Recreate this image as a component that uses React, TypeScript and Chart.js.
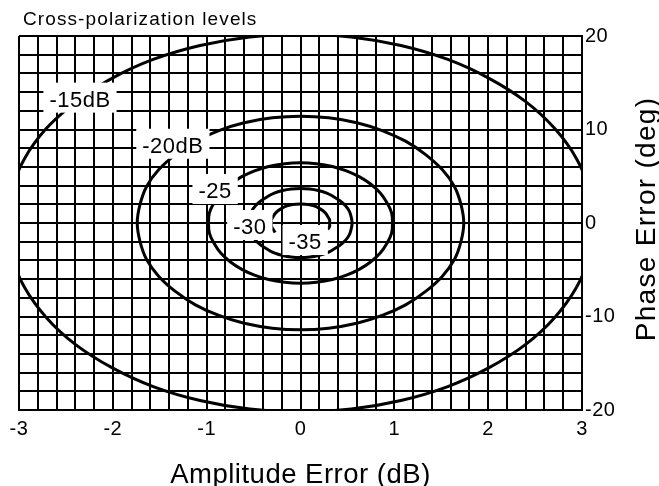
import React, { useEffect, useRef } from 'react';
import { Chart, registerables } from 'chart.js';

Chart.register(...registerables);

// ---- data ----
const chartTitle = 'Cross-polarization levels';
const xAxisTitle = 'Amplitude Error (dB)';
const yAxisTitle = 'Phase Error (deg)';

const xTickLabels = [-3, -2, -1, 0, 1, 2, 3];
const yTickLabels = [-20, -10, 0, 10, 20];

// contour labels (text and anchor in data units: dB, deg)
const levelLabels = ['-15dB', '-20dB', '-25', '-30', '-35'];
const levelLabelX = [-2.35, -1.36, -0.91, -0.54, 0.05];
const levelLabelY = [13.3, 8.37, 3.53, -0.32, -1.93];

// -15 dB contour
const c15X = [-2.40, -2.71, -2.94, -3.08, -3.13, -3.08, -2.94, -2.71, -2.40, -2.01, -1.57, -1.07, -0.54, 0, 0.54, 1.07, 1.57, 2.01, 2.40, 2.71, 2.94, 3.08, 3.13, 3.08, 2.94, 2.71, 2.40, 2.01, 1.57, 1.07, 0.54, 0, -0.54, -1.07, -1.57, -2.01, -2.40];
const c15Y = [12.98, 10.10, 6.91, 3.51, 0, -3.51, -6.91, -10.10, -12.98, -15.47, -17.49, -18.98, -19.89, -20.2, -19.89, -18.98, -17.49, -15.47, -12.98, -10.10, -6.91, -3.51, 0, 3.51, 6.91, 10.10, 12.98, 15.47, 17.49, 18.98, 19.89, 20.2, 19.89, 18.98, 17.49, 15.47, 12.98];

// -20 dB contour
const c20X = [-1.12, -1.33, -1.51, -1.64, -1.71, -1.74, -1.71, -1.64, -1.51, -1.33, -1.12, -0.87, -0.60, -0.30, 0, 0.30, 0.60, 0.87, 1.12, 1.33, 1.51, 1.64, 1.71, 1.74, 1.71, 1.64, 1.51, 1.33, 1.12, 0.87, 0.60, 0.30, 0, -0.30, -0.60, -0.87, -1.12];
const c20Y = [8.75, 7.34, 5.71, 3.91, 1.99, 0, -1.99, -3.91, -5.71, -7.34, -8.75, -9.89, -10.73, -11.25, -11.42, -11.25, -10.73, -9.89, -8.75, -7.34, -5.71, -3.91, -1.99, 0, 1.99, 3.91, 5.71, 7.34, 8.75, 9.89, 10.73, 11.25, 11.42, 11.25, 10.73, 9.89, 8.75];

// -25 dB contour
const c25X = [-0.75, -0.85, -0.92, -0.97, -0.98, -0.97, -0.92, -0.85, -0.75, -0.63, -0.49, -0.34, -0.17, 0, 0.17, 0.34, 0.49, 0.63, 0.75, 0.85, 0.92, 0.97, 0.98, 0.97, 0.92, 0.85, 0.75, 0.63, 0.49, 0.34, 0.17, 0, -0.17, -0.34, -0.49, -0.63, -0.75];
const c25Y = [4.14, 3.22, 2.20, 1.12, 0, -1.12, -2.20, -3.22, -4.14, -4.93, -5.58, -6.05, -6.34, -6.44, -6.34, -6.05, -5.58, -4.93, -4.14, -3.22, -2.20, -1.12, 0, 1.12, 2.20, 3.22, 4.14, 4.93, 5.58, 6.05, 6.34, 6.44, 6.34, 6.05, 5.58, 4.93, 4.14];

// -30 dB contour
const c30X = [-0.54, -0.52, -0.48, -0.42, -0.35, -0.28, -0.19, -0.10, 0, 0.10, 0.19, 0.28, 0.35, 0.42, 0.48, 0.52, 0.54, 0.55, 0.54, 0.52, 0.48, 0.42, 0.35, 0.28, 0.19, 0.10, 0, -0.10, -0.19, -0.28, -0.35, -0.42, -0.48, -0.52, -0.54, -0.55, -0.54];
const c30Y = [-0.64, -1.27, -1.85, -2.38, -2.83, -3.20, -3.48, -3.64, -3.70, -3.64, -3.48, -3.20, -2.83, -2.38, -1.85, -1.27, -0.64, 0, 0.64, 1.27, 1.85, 2.38, 2.83, 3.20, 3.48, 3.64, 3.70, 3.64, 3.48, 3.20, 2.83, 2.38, 1.85, 1.27, 0.64, 0, -0.64];

// -35 dB contour (open curve)
const c35X = [-0.27, -0.29, -0.31, -0.31, -0.31, -0.29, -0.27, -0.24, -0.20, -0.16, -0.11, -0.05, 0, 0.05, 0.11, 0.16, 0.20, 0.24, 0.27, 0.29, 0.31, 0.31, 0.31, 0.29];
const c35Y = [-1.02, -0.70, -0.35, 0, 0.35, 0.70, 1.02, 1.31, 1.56, 1.77, 1.92, 2.01, 2.04, 2.01, 1.92, 1.77, 1.56, 1.31, 1.02, 0.70, 0.35, 0, -0.35, -0.70];

const FONT = '"Liberation Sans", Arial, Helvetica, sans-serif';

const toPoints = (xs: number[], ys: number[]) => xs.map((v, i) => ({ x: v, y: ys[i] }));

const contourSet = (xs: number[], ys: number[]) => ({
  data: toPoints(xs, ys),
  showLine: true,
  borderColor: '#000',
  backgroundColor: '#000',
  borderWidth: 3,
  pointRadius: 0,
  pointHoverRadius: 0,
  tension: 0.4,
  fill: false,
  clip: 0,
});

const isTick = (list: number[], v: number) => list.some((t) => Math.abs(t - v) < 1e-6);

const overlayPlugin = {
  id: 'overlay',
  beforeLayout(chart: any) {
    chart.ctx.letterSpacing = '0.5px';
  },
  beforeDraw(chart: any) {
    chart.ctx.letterSpacing = '0.5px';
  },
  afterDatasetsDraw(chart: any) {
    const { ctx, scales } = chart;
    const xs = scales.x;
    const ys = scales.y;
    ctx.save();
    const size = 22;
    ctx.font = `${size}px ${FONT}`;
    ctx.letterSpacing = '0.5px';
    ctx.textAlign = 'center';
    ctx.textBaseline = 'alphabetic';
    levelLabels.forEach((t, i) => {
      const px = xs.getPixelForValue(levelLabelX[i]);
      const py = ys.getPixelForValue(levelLabelY[i]);
      const w = ctx.measureText(t).width + 12;
      const h = 30;
      ctx.fillStyle = '#fff';
      ctx.fillRect(px - w / 2, py - 1 - h / 2, w, h);
      ctx.fillStyle = '#000';
      ctx.fillText(t, px, py + 0.358 * size);
    });
    ctx.restore();
  },
  afterDraw(chart: any) {
    const { ctx } = chart;
    // chart title
    ctx.save();
    ctx.font = `19px ${FONT}`;
    ctx.letterSpacing = '1.1px';
    ctx.fillStyle = '#000';
    ctx.textAlign = 'left';
    ctx.textBaseline = 'alphabetic';
    ctx.fillText(chartTitle, 23, 25);
    ctx.restore();
    // right axis title, reading bottom to top
    ctx.save();
    const ts = 28;
    ctx.font = `${ts}px ${FONT}`;
    ctx.letterSpacing = '1.3px';
    ctx.fillStyle = '#000';
    ctx.textAlign = 'center';
    ctx.textBaseline = 'alphabetic';
    ctx.translate(644.5, 219);
    ctx.rotate(-Math.PI / 2);
    ctx.fillText(yAxisTitle, 0, 0.358 * ts);
    ctx.restore();
  },
};

export default function App() {
  const ref = useRef<HTMLCanvasElement>(null);

  useEffect(() => {
    document.body.style.margin = '0';
    if (!ref.current) return;
    Chart.defaults.font.family = FONT;
    Chart.defaults.color = '#000';

    const gridOpts = { color: '#000', lineWidth: 2, drawTicks: false };
    const borderOpts = { color: '#000', width: 2 };

    const chart = new Chart(ref.current, {
      type: 'scatter',
      data: {
        datasets: [
          contourSet(c15X, c15Y),
          contourSet(c20X, c20Y),
          contourSet(c25X, c25Y),
          contourSet(c30X, c30Y),
          contourSet(c35X, c35Y),
        ] as any,
      },
      options: {
        responsive: false,
        animation: false,
        events: [],
        layout: { padding: { left: 19, top: 36, right: 0, bottom: 0 } },
        plugins: {
          legend: { display: false },
          tooltip: { enabled: false },
          title: { display: false },
        },
        scales: {
          x: {
            type: 'linear',
            position: 'bottom',
            min: -3,
            max: 3,
            afterFit: (s: any) => {
              s.height = 76;
            },
            ticks: {
              stepSize: 0.2,
              autoSkip: false,
              maxRotation: 0,
              minRotation: 0,
              padding: 7,
              color: '#000',
              font: { size: 20, family: FONT },
              callback: (v: any) => (isTick(xTickLabels, Number(v)) ? String(Math.round(Number(v))) : ''),
            },
            grid: gridOpts,
            border: borderOpts,
            title: {
              display: true,
              text: xAxisTitle,
              color: '#000',
              font: { size: 27.5, family: FONT, lineHeight: 0.8 },
              padding: 0,
            },
          },
          y: {
            type: 'linear',
            position: 'right',
            min: -20,
            max: 20,
            afterFit: (s: any) => {
              s.width = 77;
            },
            ticks: {
              stepSize: 2,
              autoSkip: false,
              padding: 3,
              crossAlign: 'near',
              color: '#000',
              font: { size: 20, family: FONT },
              callback: (v: any) => (isTick(yTickLabels, Number(v)) ? String(Math.round(Number(v))) : ''),
            },
            grid: gridOpts,
            border: borderOpts,
          },
        },
      } as any,
      plugins: [overlayPlugin],
    });
    return () => chart.destroy();
  }, []);

  return (
    <div style={{ width: 659, height: 486 }}>
      <canvas ref={ref} width={659} height={486} style={{ display: 'block', width: '659px', height: '486px' }} />
    </div>
  );
}
